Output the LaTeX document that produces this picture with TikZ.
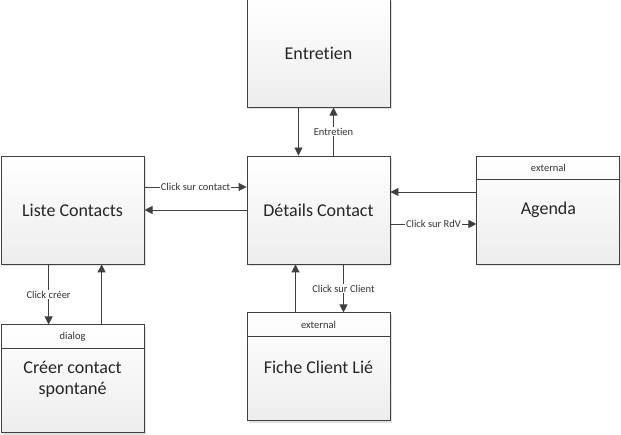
\documentclass[tikz,border=0pt]{standalone}
\usepackage{fontspec}
\setmainfont{Carlito}[Ligatures=NoCommon]
\usepackage{tikz}
\usetikzlibrary{positioning,arrows.meta,shadows}

\begin{document}
\begin{tikzpicture}[
    box/.style={draw=black!75,line width=0.9pt,top color=white,bottom color=black!7,
      drop shadow={shadow xshift=2pt,shadow yshift=-2pt,fill=black!12,opacity=1},
      align=center,minimum width=143pt,minimum height=108pt,inner sep=2pt,
      font=\fontsize{18}{21}\selectfont,text=black!85},
    arr/.style={-{Triangle[length=8pt,width=8pt]},draw=black!75,line width=0.9pt},
    lbl/.style={fill=white,inner sep=1pt,font=\fontsize{10.5}{12}\selectfont,text=black!80},
    hdr/.style={inner sep=1pt,font=\fontsize{10.5}{12}\selectfont,text=black!80},
    node distance=48pt
  ]
    \useasboundingbox (0,0) rectangle (621pt,435pt);
    \node[box] (details) at (318.5pt,225pt) {Détails Contact};
    \node[box,above=of details] (entretien) {Entretien};
    \node[box,below=of details] (fiche) {Fiche Client Lié};
    \node[box,left=102pt of details] (liste) {Liste Contacts};
    \node[box,right=86pt of details] (agenda) {Agenda};
    \node[box,below=60pt of liste] (creer) {Créer contact\\spontané};
    \foreach \n/\t in {agenda/external,fiche/external,creer/dialog}{
      \draw[draw=black!75,line width=0.9pt] ([yshift=-24pt]\n.north west) -- ([yshift=-24pt]\n.north east);
      \node[hdr] (\n-hdr) at ([yshift=-12pt]\n.north) {\t};
    }
    \draw[arr] ([yshift=23pt]liste.east) -- node[lbl] {Click sur contact} ([yshift=23pt]details.west);
    \draw[arr] (details.west) -- (liste.east);
    \draw[arr] ([xshift=-20pt]entretien.south) -- ([xshift=-20pt]details.north);
    \draw[arr] ([xshift=15pt]details.north) -- node[lbl] {Entretien} ([xshift=15pt]entretien.south);
    \draw[arr] ([yshift=18pt]agenda.west) -- ([yshift=18pt]details.east);
    \draw[arr] ([yshift=-14pt]details.east) -- node[lbl] {Click sur RdV} ([yshift=-14pt]agenda.west);
    \draw[arr] ([xshift=25pt]details.south) -- node[lbl] {Click sur Client} ([xshift=25pt]fiche.north);
    \draw[arr] ([xshift=-23pt]fiche.north) -- ([xshift=-23pt]details.south);
    \draw[arr] ([xshift=-24pt]liste.south) -- node[lbl] {Click créer} ([xshift=-24pt]creer.north);
    \draw[arr] ([xshift=29pt]creer.north) -- ([xshift=29pt]liste.south);
  \end{tikzpicture}
\end{document}
